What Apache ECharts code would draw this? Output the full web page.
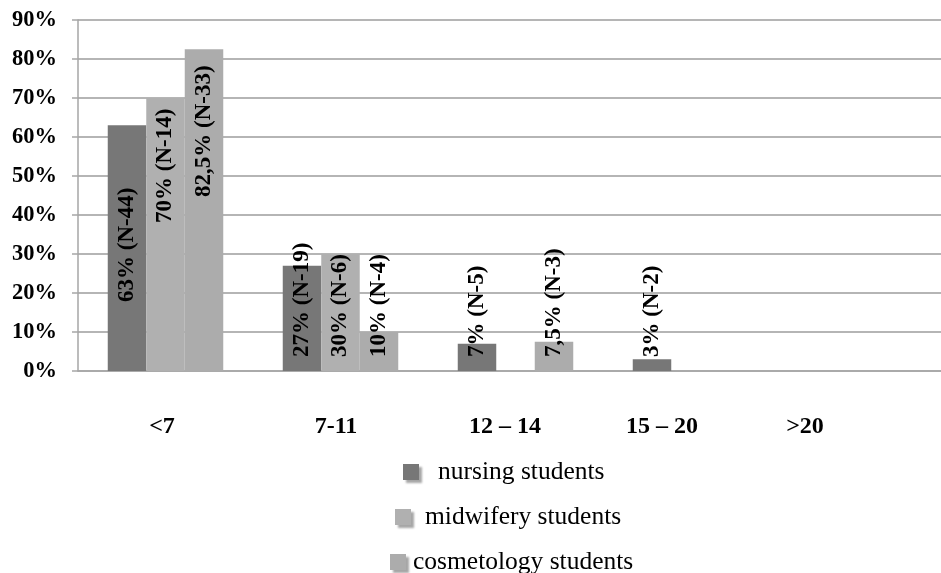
<!DOCTYPE html>
<html>
<head>
<meta charset="utf-8">
<script src="https://cdn.jsdelivr.net/npm/echarts@6/dist/echarts.min.js"></script>
<style>
  html, body { margin: 0; padding: 0; background: #ffffff; }
  #chart { width: 941px; height: 573px; }
</style>
</head>
<body>
<div id="chart"></div>
<script>
// Years-of-experience groups and the share of each student group in them
const categories = ['<7', '7-11', '12 – 14', '15 – 20', '>20'];

const nursingPct = [63, 27, 7, 3, 0];
const nursingN = [44, 19, 5, 2, 0];

const midwiferyPct = [70, 30, 0, 0, 0];
const midwiferyN = [14, 6, 0, 0, 0];

const cosmetologyPct = [82.5, 10, 7.5, 0, 0];
const cosmetologyN = [33, 4, 3, 0, 0];

const seriesNames = ['nursing students', 'midwifery students', 'cosmetology students'];

// Value axis ticks (percent)
const yMin = 0;
const yMax = 90;
const yStep = 10;

// Presentation settings
const SERIF = '"Liberation Serif", "Times New Roman", "DejaVu Serif", serif';
const colors = ['#777777', '#b0b0b0', '#acacac'];
const labelLift = [
  [69, 14, 14, 14, 14],
  [148, 14, 14, 14, 14],
  [174, 14, 14, 14, 14]
];
const categoryLabelShift = [7, 9, 21, 57, 121];

function pctText(v) {
  return String(v).replace('.', ',') + '%';
}

function buildData(pcts, counts, lifts) {
  return pcts.map((v, i) => ({
    value: v,
    label: v > 0
      ? { show: true, distance: lifts[i], formatter: pctText(v) + ' (N-' + counts[i] + ')' }
      : { show: false }
  }));
}

const richCats = {};
categoryLabelShift.forEach((p, i) => {
  richCats['c' + i] = {
    fontFamily: SERIF, fontWeight: 'bold', fontSize: 24, color: '#000',
    padding: [0, p, 0, 0]
  };
});

function barSeries(name, pcts, counts, lifts, color) {
  return {
    name: name,
    type: 'bar',
    barGap: '0%',
    barCategoryGap: '34%',
    itemStyle: { color: color, borderWidth: 0 },
    label: {
      show: true,
      position: 'insideBottom',
      rotate: 90,
      align: 'left',
      verticalAlign: 'middle',
      fontFamily: SERIF,
      fontWeight: 'bold',
      fontSize: 23,
      color: '#000'
    },
    emphasis: { disabled: true },
    data: buildData(pcts, counts, lifts)
  };
}

const legendLayout = [
  { left: 403, top: 459, pad: 14 },
  { left: 395, top: 504, pad: 9 },
  { left: 390, top: 549, pad: 2 }
];

const chart = echarts.init(document.getElementById('chart'), null, { renderer: 'canvas' });

chart.setOption({
  animation: false,
  backgroundColor: '#ffffff',
  color: colors,
  grid: { left: 78, width: 875, top: 20, bottom: 202, containLabel: false, outerBoundsMode: 'none' },
  legend: seriesNames.map((n, i) => ({
    data: [n],
    orient: 'horizontal',
    left: legendLayout[i].left,
    top: legendLayout[i].top,
    padding: 0,
    icon: 'rect',
    itemWidth: 16,
    itemHeight: 16,
    selectedMode: false,
    itemStyle: { borderWidth: 0, shadowColor: 'rgba(0,0,0,0.35)', shadowBlur: 2, shadowOffsetX: 3, shadowOffsetY: 3 },
    textStyle: {
      fontFamily: SERIF, fontSize: 25.5, color: '#000',
      padding: [0, 0, 0, legendLayout[i].pad]
    }
  })),
  xAxis: {
    type: 'category',
    data: categories,
    axisLine: { show: true, lineStyle: { color: '#a6a6a6', width: 1.5 } },
    axisTick: { show: false },
    axisLabel: {
      margin: 44,
      interval: 0,
      formatter: (v, i) => '{c' + i + '|' + v + '}',
      rich: richCats
    },
    splitLine: { show: false }
  },
  yAxis: {
    type: 'value',
    min: yMin,
    max: yMax,
    interval: yStep,
    axisLine: { show: true, lineStyle: { color: '#a6a6a6', width: 1.5 } },
    axisTick: { show: true, length: 6, lineStyle: { color: '#a6a6a6', width: 1.5 } },
    axisLabel: {
      margin: 21,
      formatter: '{value}%',
      fontFamily: SERIF,
      fontWeight: 'bold',
      fontSize: 22.5,
      color: '#000'
    },
    splitLine: { show: true, lineStyle: { color: '#b5b5b5', width: 1.8 } }
  },
  series: [
    barSeries(seriesNames[0], nursingPct, nursingN, labelLift[0], colors[0]),
    barSeries(seriesNames[1], midwiferyPct, midwiferyN, labelLift[1], colors[1]),
    barSeries(seriesNames[2], cosmetologyPct, cosmetologyN, labelLift[2], colors[2])
  ]
});
</script>
</body>
</html>
